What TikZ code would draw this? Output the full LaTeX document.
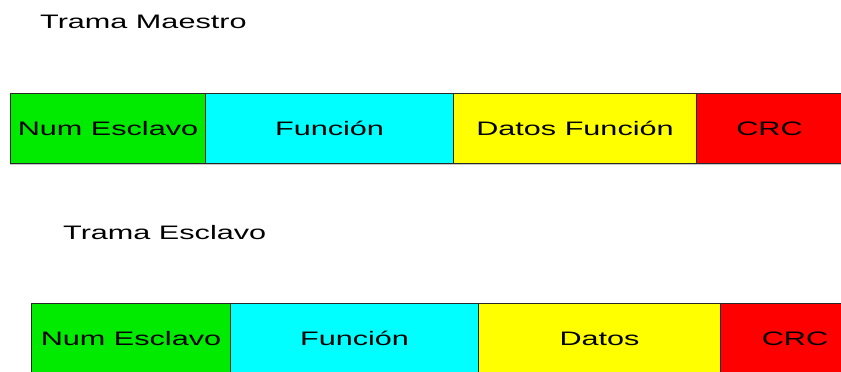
\documentclass[tikz,border=0pt]{standalone}
\usepackage{fontspec}
\setmainfont{Liberation Sans}
\newfontfamily\widefont[FakeStretch=1.57]{Liberation Sans}
\definecolor{fgreen}{RGB}{0,235,0}
\definecolor{fcyan}{RGB}{0,255,255}
\definecolor{fyellow}{RGB}{255,255,0}
\definecolor{fred}{RGB}{255,0,0}
\definecolor{fborder}{RGB}{40,40,40}
\tikzset{
  field/.style={draw=fborder, line width=1pt, anchor=north west, inner sep=0pt,
    minimum height=70pt, text height=14pt, text depth=0pt,
    font=\widefont\fontsize{19.5}{20}\selectfont},
  title/.style={anchor=base west, inner sep=0pt, font=\widefont\fontsize{19.5}{20}\selectfont}
}
\begin{document}
\begin{tikzpicture}[x=1pt,y=-1pt]
\useasboundingbox (0,0) rectangle (841,372);
\clip (0,0) rectangle (841,372);
\node[title] (t1) at (40,28) {Trama Maestro};
\draw[line width=1.2pt, black!22] (10,164.8) -- (841,164.8);
\node[field, fill=fgreen, minimum width=195pt] (m1) at (10,93) {Num Esclavo};
\node[field, fill=fcyan, minimum width=248pt] (m2) at (205,93) {Función};
\node[field, fill=fyellow, minimum width=243pt] (m3) at (453,93) {Datos Función};
\node[field, fill=fred, minimum width=146pt] (m4) at (696,93) {CRC};
\node[title] (t2) at (63,239) {Trama Esclavo};
\node[field, fill=fgreen, minimum width=199pt] (s1) at (31,303) {Num Esclavo};
\node[field, fill=fcyan, minimum width=248pt] (s2) at (230,303) {Función};
\node[field, fill=fyellow, minimum width=242pt] (s3) at (478,303) {Datos};
\node[field, fill=fred, minimum width=149pt] (s4) at (720,303) {CRC};
\end{tikzpicture}
\end{document}
